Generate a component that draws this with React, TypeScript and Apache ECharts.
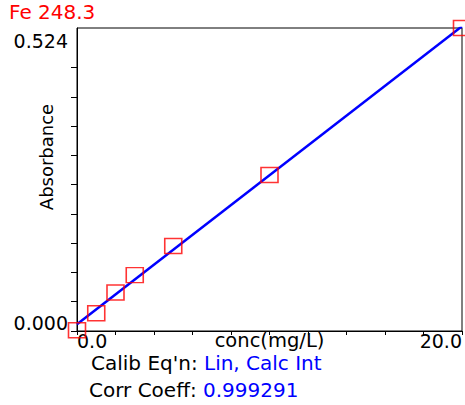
import React, { useEffect, useRef } from "react";
import * as echarts from "echarts";

// Calibration standards (concentration mg/L, absorbance)
const concentrations = [0, 1, 2, 3, 5, 10, 20];
const absorbances = [0.0014, 0.0307, 0.0667, 0.0967, 0.1469, 0.2697, 0.524];

// Fitted calibration line endpoints
const fitConc = [0, 20];
const fitAbs = [0.0115, 0.527];

// Axis ticks and labels
const xTicks = [0, 2, 4, 6, 8, 10, 12, 14, 16, 18, 20];
const xTickLabels = [0, 20];
const yTicks = [0, 0.0506, 0.1012, 0.1518, 0.2024, 0.253, 0.3036, 0.3542, 0.4048, 0.4554];
const yTickLabels = [0, 0.524];

const title = "Fe 248.3";
const xName = "conc(mg/L)";
const yName = "Absorbance";
const calibKey = "Calib Eq'n: ";
const calibValue = "Lin, Calc Int";
const corrKey = "Corr Coeff: ";
const corrValue = "0.999291";

const FONT = '"DejaVu Sans", sans-serif';

export default function App() {
  const ref = useRef<HTMLDivElement>(null);

  useEffect(() => {
    if (!ref.current) return;
    const chart = echarts.init(ref.current, undefined, { renderer: "svg" });
    chart.setOption({
      animation: false,
      backgroundColor: "#ffffff",
      textStyle: { fontFamily: FONT },
      grid: {
        left: 77,
        top: 28,
        right: 2,
        bottom: 74,
        show: true,
        borderColor: "#000",
        borderWidth: 1,
        backgroundColor: "transparent",
      },
      xAxis: {
        type: "value",
        min: 0,
        max: 20,
        interval: 2,
        axisLine: { onZero: false, lineStyle: { color: "#000", width: 1 } },
        axisTick: { show: true, length: 4, customValues: xTicks, lineStyle: { color: "#000" } },
        axisLabel: {
          customValues: xTickLabels,
          formatter: (v: number) => v.toFixed(1),
          color: "#000",
          fontFamily: FONT,
          fontSize: 19,
          margin: 0,
          alignMinLabel: "left",
          alignMaxLabel: "right",
        },
        splitLine: { show: false },
        name: xName,
        nameLocation: "middle",
        nameGap: 1,
        nameMoveOverlap: false,
        nameTextStyle: { fontSize: 19.5, lineHeight: 17, color: "#000", fontFamily: FONT, verticalAlign: "top" },
      },
      yAxis: {
        type: "value",
        min: 0,
        max: 0.524,
        axisLine: { show: true, onZero: false, lineStyle: { color: "#000", width: 1 } },
        axisTick: { show: true, length: 6, customValues: yTicks, lineStyle: { color: "#000" } },
        axisLabel: {
          customValues: yTickLabels,
          margin: 9,
          color: "#000",
          fontFamily: FONT,
          fontSize: 19,
          formatter: (v: number) => (v === 0 ? "{lo|" + v.toFixed(3) + "}" : "{hi|" + v.toFixed(3) + "}"),
          rich: {
            lo: { fontSize: 19, fontFamily: FONT, color: "#000", padding: [0, 0, 16, 0] },
            hi: { fontSize: 19, fontFamily: FONT, color: "#000", padding: [26, 0, 0, 0] },
          },
        },
        splitLine: { show: false },
      },
      graphic: [
        {
          type: "text",
          x: 9,
          y: 11.5,
          style: { text: title, fill: "#ff0000", font: "20px " + FONT, verticalAlign: "middle", align: "left" },
        },
        {
          type: "text",
          x: 46,
          y: 157,
          rotation: Math.PI / 2,
          style: { text: yName, fill: "#000", font: "18px " + FONT, verticalAlign: "middle", align: "center" },
        },
        {
          type: "text",
          x: 91,
          y: 363,
          style: {
            text: "{k|" + calibKey + "}{v|" + calibValue + "}",
            verticalAlign: "middle",
            align: "left",
            rich: {
              k: { fill: "#000", fontSize: 20, lineHeight: 17, fontFamily: FONT },
              v: { fill: "#0000ff", fontSize: 20, lineHeight: 17, fontFamily: FONT },
            },
          },
        },
        {
          type: "text",
          x: 89,
          y: 389.5,
          style: {
            text: "{k|" + corrKey + "}{v|" + corrValue + "}",
            verticalAlign: "middle",
            align: "left",
            rich: {
              k: { fill: "#000", fontSize: 20, lineHeight: 17, fontFamily: FONT },
              v: { fill: "#0000ff", fontSize: 20, lineHeight: 17, fontFamily: FONT },
            },
          },
        },
      ],
      series: [
        {
          type: "line",
          data: fitConc.map((x, i) => [x, fitAbs[i]]),
          symbol: "none",
          lineStyle: { color: "#0000ff", width: 2.5 },
          clip: true,
          z: 2,
        },
        {
          type: "scatter",
          data: concentrations.map((x, i) => [x, absorbances[i]]),
          symbol: "rect",
          symbolSize: [17, 15],
          itemStyle: { color: "transparent", borderColor: "#ff0000", borderWidth: 1.5 },
          clip: false,
          z: 3,
        },
      ],
    });
    return () => chart.dispose();
  }, []);

  return (
    <div
      ref={ref}
      style={{ position: "fixed", left: 0, top: 0, width: 465, height: 405, background: "#fff" }}
    />
  );
}
